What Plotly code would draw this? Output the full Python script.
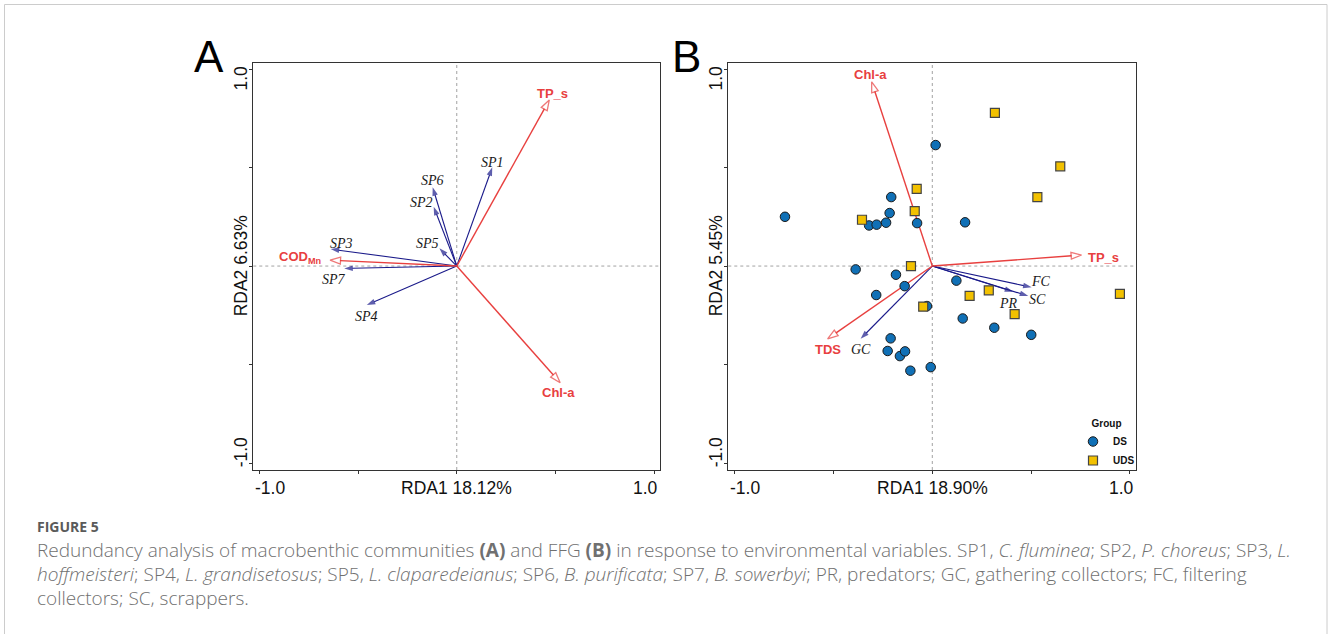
import plotly.graph_objects as go

W, H = 1328, 634

# ---------------- data ----------------
# Panel A: environmental vectors
env_a_names = ["TP_s", "Chl-a", "COD<sub>Mn</sub>"]
env_a_x = [0.469, 0.524, -0.642]
env_a_y = [0.843, -0.592, 0.030]

# Panel A: species vectors
sp_names = ["SP1", "SP2", "SP3", "SP4", "SP5", "SP6", "SP7"]
sp_x = [0.180, -0.117, -0.639, -0.456, -0.088, -0.122, -0.570]
sp_y = [0.501, 0.301, 0.086, -0.198, 0.090, 0.400, -0.012]

# Panel B: environmental vectors
env_b_names = ["Chl-a", "TP_s", "TDS"]
env_b_x = [-0.307, 0.756, -0.530]
env_b_y = [0.935, 0.056, -0.369]

# Panel B: functional feeding group vectors
ffg_names = ["FC", "SC", "PR", "GC"]
ffg_x = [0.503, 0.486, 0.410, -0.363]
ffg_y = [-0.108, -0.152, -0.130, -0.369]

# Panel B: site scores
ds_x = [-0.746, 0.017, -0.208, -0.216, -0.320, -0.282, -0.234, -0.077, 0.166, -0.388,
        -0.184, -0.140, -0.284, -0.027, 0.122, 0.154, 0.314, 0.501, -0.211, -0.226,
        -0.164, -0.138, -0.111, -0.008]
ds_y = [0.250, 0.614, 0.350, 0.269, 0.206, 0.210, 0.220, 0.218, 0.222, -0.017,
        -0.044, -0.102, -0.147, -0.203, -0.074, -0.266, -0.313, -0.349, -0.367, -0.431,
        -0.457, -0.433, -0.531, -0.513]
uds_x = [0.317, 0.648, 0.532, -0.079, -0.089, -0.356, -0.108, -0.046, 0.189, 0.286, 0.417, 0.950]
uds_y = [0.777, 0.506, 0.350, 0.392, 0.279, 0.235, 0.000, -0.206, -0.151, -0.123, -0.244, -0.141]

tick_vals = [-1.0, -0.5, 0.0, 0.5, 1.0]
x_titles = ["RDA1 18.12%", "RDA1 18.90%"]
y_titles = ["RDA2 6.63%", "RDA2 5.45%"]
end_labels = ["-1.0", "1.0"]

# ---------------- styles ----------------
RED = "#E8403F"
BLUE = "#1A1A8A"
FRAME = "#333333"
SANS = "Liberation Sans, Arial, sans-serif"
SERIF = "Liberation Serif, Times New Roman, serif"
CAP = "Open Sans, Lato, sans-serif"

# label offsets in pixels (dx, dy up)
env_a_off = {"TP_s": (3, 6), "Chl-a": (-2, -10), "COD<sub>Mn</sub>": (-7, 3)}
sp_off = {"SP1": (0, 5), "SP2": (-12, 4), "SP3": (11, 6), "SP4": (0, -11),
          "SP5": (-12, 5), "SP6": (0, 7), "SP7": (-10, -11)}
env_b_off = {"Chl-a": (-1, 7), "TP_s": (4, -2), "TDS": (0, -11)}
ffg_off = {"FC": (9, 6), "SC": (9, -3), "PR": (-5, -12), "GC": (0, -11)}


def px(x):
    return x / W


def py(y):
    return 1 - y / H


# frame geometry (pixels)
A_LEFT, A_RIGHT = 253.3, 660.0
B_LEFT, B_RIGHT = 728.3, 1135.7
TOP, BOTTOM = 62.7, 470.0

fig = go.Figure()


def add_arrow(xv, yv, color, head, xa, ya, width=1.2, open_head=False):
    fig.add_trace(go.Scatter(
        x=[0, xv], y=[0, yv], xaxis=xa, yaxis=ya,
        mode="lines+markers",
        line=dict(color=color, width=width),
        marker=dict(symbol="arrow", size=[0, head], angleref="previous",
                    color="white" if open_head else color,
                    line=dict(color=color, width=1.3 if open_head else 0)),
        showlegend=False, hoverinfo="skip"))


# Panel A arrows
for xv, yv in zip(sp_x, sp_y):
    add_arrow(xv, yv, BLUE, 9, "x", "y", width=1.1)
for xv, yv in zip(env_a_x, env_a_y):
    add_arrow(xv, yv, RED, 11, "x", "y", width=1.4, open_head=True)

# Panel B arrows
for xv, yv in zip(ffg_x, ffg_y):
    add_arrow(xv, yv, BLUE, 9, "x2", "y2", width=1.1)
for xv, yv in zip(env_b_x, env_b_y):
    add_arrow(xv, yv, RED, 11, "x2", "y2", width=1.4, open_head=True)

# Panel B sites
fig.add_trace(go.Scatter(
    x=ds_x, y=ds_y, xaxis="x2", yaxis="y2", mode="markers", name="DS",
    marker=dict(symbol="circle", size=9.5, color="#1070B6",
                line=dict(color="#1a1a1a", width=1))))
fig.add_trace(go.Scatter(
    x=uds_x, y=uds_y, xaxis="x2", yaxis="y2", mode="markers", name="UDS",
    marker=dict(symbol="square", size=9, color="#F2C100",
                line=dict(color="#444444", width=1.2))))

annotations = []


def lab(text, x, y, off, xa, ya, font, **kw):
    annotations.append(dict(text=text, x=x, y=y, xref=xa, yref=ya, showarrow=False,
                            xshift=off[0], yshift=off[1], font=font, **kw))


env_font = dict(family=SANS, size=13, color=RED)
sp_font = dict(family=SERIF, size=14, color="#1a1a1a", style="italic")

for n, xv, yv in zip(env_a_names, env_a_x, env_a_y):
    if n.startswith("COD"):
        lab("<b>COD<sub>Mn</sub></b>", xv, yv, env_a_off[n], "x", "y", env_font, xanchor="right")
    else:
        lab("<b>%s</b>" % n, xv, yv, env_a_off[n], "x", "y", env_font)
for n, xv, yv in zip(sp_names, sp_x, sp_y):
    lab(n, xv, yv, sp_off[n], "x", "y", sp_font)
for n, xv, yv in zip(env_b_names, env_b_x, env_b_y):
    if n == "TP_s":
        lab("<b>%s</b>" % n, xv, yv, env_b_off[n], "x2", "y2", env_font, xanchor="left")
    else:
        lab("<b>%s</b>" % n, xv, yv, env_b_off[n], "x2", "y2", env_font)
for n, xv, yv in zip(ffg_names, ffg_x, ffg_y):
    lab(n, xv, yv, ffg_off[n], "x2", "y2", sp_font)

# axis labels (R-style: end values flush with the box, title at the centre tick)
tick_font = dict(family=SANS, size=17.5, color="#111111")
for i, (left, right) in enumerate([(A_LEFT, A_RIGHT), (B_LEFT, B_RIGHT)]):
    xa = "x" if i == 0 else "x2"
    annotations.append(dict(text=end_labels[0], x=px(left), y=py(488), xref="paper", yref="paper",
                            xanchor="left", yanchor="middle", showarrow=False, font=tick_font))
    annotations.append(dict(text=end_labels[1], x=px(right), y=py(488), xref="paper", yref="paper",
                            xanchor="right", yanchor="middle", showarrow=False, font=tick_font))
    annotations.append(dict(text=x_titles[i], x=0, y=py(488), xref=xa, yref="paper",
                            xanchor="center", yanchor="middle", showarrow=False, font=tick_font))
    lx = left - 12
    annotations.append(dict(text=end_labels[1], x=px(lx), y=py(TOP + 1), xref="paper", yref="paper",
                            xanchor="center", yanchor="top", textangle=-90, showarrow=False, font=tick_font))
    annotations.append(dict(text=end_labels[0], x=px(lx), y=py(BOTTOM - 1), xref="paper", yref="paper",
                            xanchor="center", yanchor="bottom", textangle=-90, showarrow=False, font=tick_font))
    annotations.append(dict(text=y_titles[i], x=px(lx), y=0, xref="paper", yref=("y" if i == 0 else "y2"),
                            xanchor="center", yanchor="middle", textangle=-90, showarrow=False, font=tick_font))

# panel letters
for t, cx in [("A", 209), ("B", 686)]:
    annotations.append(dict(text=t, x=px(cx), y=py(56), xref="paper", yref="paper",
                            xanchor="center", yanchor="middle", showarrow=False,
                            font=dict(family=SANS, size=44, color="#000000")))

# caption
cap_color = "#707070"
annotations.append(dict(text="<b>FIGURE 5</b>", x=px(35), y=py(526), xref="paper", yref="paper",
                        xanchor="left", yanchor="middle", showarrow=False,
                        font=dict(family=CAP, size=14, color="#5a5a5a")))
cap_lines = [
    "Redundancy analysis of macrobenthic communities <b>(A)</b> and FFG <b>(B)</b> in response to environmental "
    "variables. SP1, <i>C. fluminea</i>; SP2, <i>P. choreus</i>; SP3, <i>L.</i>",
    "<i>hoffmeisteri</i>; SP4, <i>L. grandisetosus</i>; SP5, <i>L. claparedeianus</i>; SP6, <i>B. purificata</i>; "
    "SP7, <i>B. sowerbyi</i>; PR, predators; GC, gathering collectors; FC, filtering",
    "collectors; SC, scrappers.",
]
for k, line in enumerate(cap_lines):
    annotations.append(dict(text=line, x=px(35), y=py(550 + 24 * k), xref="paper", yref="paper",
                            xanchor="left", yanchor="middle", showarrow=False,
                            font=dict(family=CAP, size=19, color=cap_color, weight=300)))

shapes = []
for xa, ya in [("x", "y"), ("x2", "y2")]:
    shapes.append(dict(type="line", xref=xa, yref=ya + " domain", x0=0, x1=0, y0=0, y1=1,
                       line=dict(color="#8a8a8a", width=0.8, dash="dot"), layer="below"))
    shapes.append(dict(type="line", xref=xa + " domain", yref=ya, x0=0, x1=1, y0=0, y1=0,
                       line=dict(color="#8a8a8a", width=0.8, dash="dot"), layer="below"))
# page border
shapes.append(dict(type="rect", xref="paper", yref="paper", x0=px(4.5), x1=px(1327), y0=-0.05, y1=py(4.5),
                   line=dict(color="#cccccc", width=1), fillcolor="rgba(0,0,0,0)"))

axis_common = dict(showgrid=False, zeroline=False, showline=True, mirror=True, linecolor=FRAME,
                   linewidth=1.2, ticks="outside", ticklen=3, tickcolor=FRAME, tickwidth=1,
                   tickvals=tick_vals, showticklabels=False, fixedrange=True)

fig.update_layout(
    width=W, height=H, autosize=False,
    margin=dict(l=0, r=0, t=0, b=0),
    paper_bgcolor="white", plot_bgcolor="white",
    font=dict(family=SANS),
    xaxis=dict(domain=[px(A_LEFT), px(A_RIGHT)], range=[-1.031, 1.030], anchor="y", **axis_common),
    yaxis=dict(domain=[py(BOTTOM), py(TOP)], range=[-1.035, 1.032], anchor="x", **axis_common),
    xaxis2=dict(domain=[px(B_LEFT), px(B_RIGHT)], range=[-1.033, 1.030], anchor="y2", **axis_common),
    yaxis2=dict(domain=[py(BOTTOM), py(TOP)], range=[-1.035, 1.032], anchor="x2", **axis_common),
    showlegend=True,
    legend=dict(x=px(1073), y=py(414), xanchor="left", yanchor="top",
                bgcolor="rgba(0,0,0,0)", borderwidth=0, itemwidth=30,
                title=dict(text="<b>Group</b>", side="top center",
                           font=dict(family=SANS, size=10, color="#111111")),
                font=dict(family=SANS, size=10, color="#111111", weight="bold"),
                tracegroupgap=0),
    annotations=annotations,
    shapes=shapes,
)

fig.write_html("out.html")
